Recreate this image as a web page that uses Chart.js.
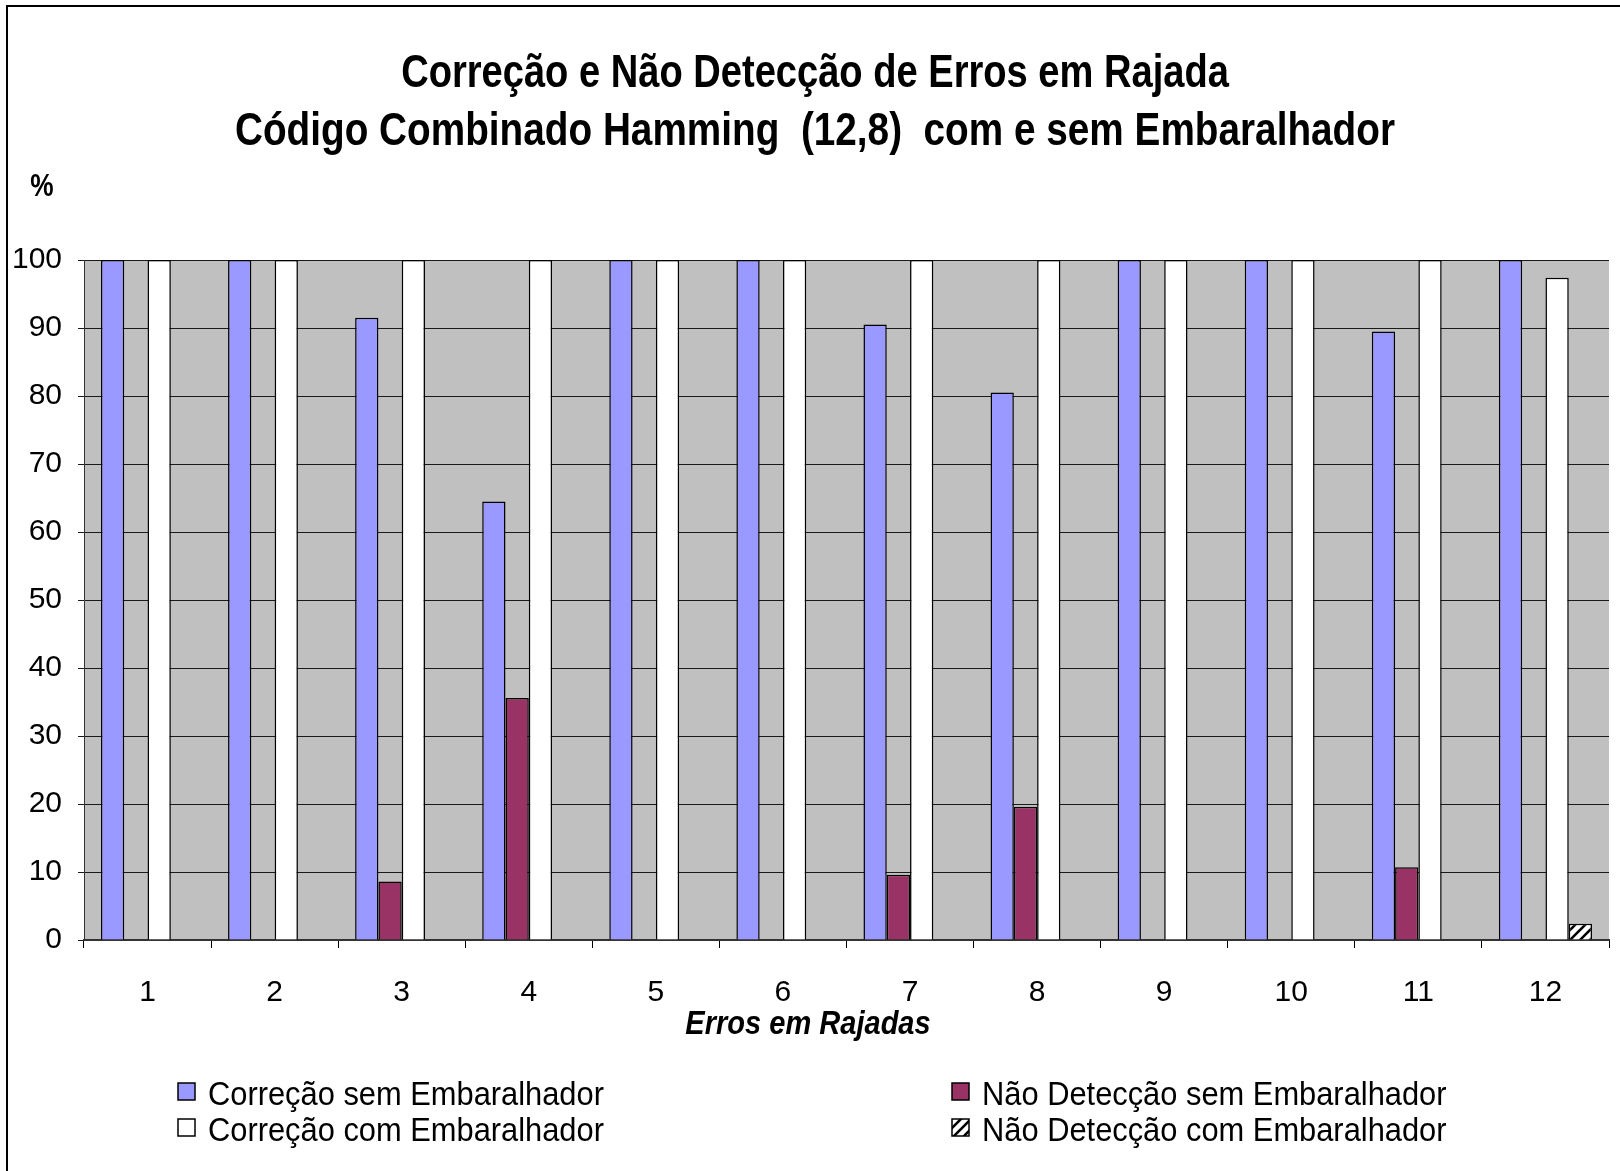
<!DOCTYPE html>
<html>
<head>
<meta charset="utf-8">
<script src="https://cdn.jsdelivr.net/npm/chart.js@4.4.1/dist/chart.umd.min.js"></script>
<style>
  html, body { margin: 0; padding: 0; background: #fff; overflow: hidden; }
  #wrap { position: relative; width: 1620px; height: 1171px; }
</style>
</head>
<body>
<div id="wrap"><canvas id="chart" width="1620" height="1171"></canvas></div>
<script>
// Burst-error lengths on the category axis
const categories = ['1', '2', '3', '4', '5', '6', '7', '8', '9', '10', '11', '12'];

// Percentages per burst length
const correcaoSem     = [100, 100, 91.5, 64.5, 100, 100, 90.5, 80.5, 100, 100, 89.5, 100];
const naoDeteccaoSem  = [0, 0, 8.6, 35.6, 0, 0, 9.6, 19.6, 0, 0, 10.7, 0];
const correcaoCom     = [100, 100, 100, 100, 100, 100, 100, 100, 100, 100, 100, 97.4];
const naoDeteccaoCom  = [0, 0, 0, 0, 0, 0, 0, 0, 0, 0, 0, 2.4];

const seriesNames = [
  'Correção sem Embaralhador',
  'Não Detecção sem Embaralhador',
  'Correção com Embaralhador',
  'Não Detecção com Embaralhador'
];

const yTickValues = [0, 10, 20, 30, 40, 50, 60, 70, 80, 90, 100];

const titleLines = [
  'Correção e Não Detecção de Erros em Rajada',
  'Código Combinado Hamming  (12,8)  com e sem Embaralhador'
];
const xAxisTitle = 'Erros em Rajadas';
const yAxisUnit = '%';

const SANS = "'Liberation Sans', Arial, sans-serif";

// Text squeezed horizontally (narrow typeface look)
function narrowText(ctx, text, x, y, font, sx, align) {
  ctx.save();
  ctx.font = font;
  ctx.textBaseline = 'alphabetic';
  ctx.textAlign = 'left';
  const w = ctx.measureText(text).width * sx;
  const left = align === 'center' ? x - w / 2 : (align === 'right' ? x - w : x);
  ctx.translate(left, y);
  ctx.scale(sx, 1);
  ctx.fillText(text, 0, 0);
  ctx.restore();
}

// Diagonal-stripe fill for the last series
function stripes() {
  const s = 10;
  const c = document.createElement('canvas');
  c.width = s; c.height = s;
  const g = c.getContext('2d');
  g.fillStyle = '#fff';
  g.fillRect(0, 0, s, s);
  g.strokeStyle = '#000';
  g.lineWidth = 2.6;
  g.beginPath();
  g.moveTo(-1, s + 1); g.lineTo(s + 1, -1);
  g.moveTo(-s / 2 - 1, s / 2 + 1); g.lineTo(s / 2 + 1, -s / 2 - 1);
  g.moveTo(s / 2 - 1, s * 1.5 + 1); g.lineTo(s * 1.5 + 1, s / 2 - 1);
  g.stroke();
  return g.createPattern(c, 'repeat');
}

const fills = ['#9999FF', '#993366', '#FFFFFF', stripes()];
const seriesData = [correcaoSem, naoDeteccaoSem, correcaoCom, naoDeteccaoCom];

// Grey plot background
const plotBackground = {
  id: 'plotBackground',
  beforeDraw(chart) {
    const { ctx, chartArea: a } = chart;
    ctx.save();
    ctx.fillStyle = '#C0C0C0';
    ctx.fillRect(a.left, a.top, a.right - a.left, a.bottom - a.top);
    ctx.restore();
  }
};

// Frame, titles, unit label, axis caption and two-column legend
const decorations = {
  id: 'decorations',
  afterDraw(chart) {
    const { ctx } = chart;
    const cx = chart.width / 2;
    ctx.save();

    ctx.strokeStyle = '#000';
    ctx.lineWidth = 2;
    ctx.strokeRect(7, 6, 1700, 1300);

    ctx.fillStyle = '#000';
    narrowText(ctx, titleLines[0], cx + 5, 87, 'bold 46px ' + SANS, 0.828, 'center');
    narrowText(ctx, titleLines[1], cx + 5, 145, 'bold 46px ' + SANS, 0.842, 'center');

    narrowText(ctx, yAxisUnit, 42, 196, 'bold 32px ' + SANS, 0.82, 'center');

    narrowText(ctx, xAxisTitle, 808, 1034, 'italic bold 33px ' + SANS, 0.88, 'center');

    const colX = [178, 952];
    const baseY = [1105, 1141];
    const box = 17;
    chart.data.datasets.forEach((ds, i) => {
      const x = colX[i % 2];
      const yb = baseY[Math.floor(i / 2)];
      const top = yb - 22;
      ctx.fillStyle = ds.backgroundColor;
      ctx.fillRect(x, top, box, box);
      ctx.strokeStyle = '#000';
      ctx.lineWidth = 1.5;
      ctx.strokeRect(x, top, box, box);
      ctx.fillStyle = '#000';
      narrowText(ctx, ds.label, x + 30, yb, '34px ' + SANS, 0.907, 'left');
    });

    ctx.restore();
  }
};

new Chart(document.getElementById('chart').getContext('2d'), {
  type: 'bar',
  data: {
    labels: categories,
    datasets: seriesNames.map((name, i) => ({
      label: name,
      data: seriesData[i],
      backgroundColor: fills[i],
      borderColor: '#000',
      borderWidth: 1.5
    }))
  },
  options: {
    responsive: false,
    animation: false,
    layout: { padding: { left: 0, right: 11, top: 260, bottom: 161 } },
    datasets: { bar: { categoryPercentage: 0.733, barPercentage: 1 } },
    plugins: {
      legend: { display: false },
      tooltip: { enabled: false },
      title: { display: false }
    },
    scales: {
      x: {
        grid: { display: true, drawOnChartArea: false, drawTicks: true, tickLength: 8, color: '#000', offset: true },
        border: { display: true, color: '#333', width: 2 },
        ticks: { color: '#000', font: { family: SANS, size: 30 }, padding: 27 },
        afterFit(scale) { scale.height = 70; }
      },
      y: {
        min: 0,
        max: 100,
        afterBuildTicks(scale) { scale.ticks = yTickValues.map(v => ({ value: v })); },
        ticks: { color: '#000', font: { family: SANS, size: 30 }, padding: 16 },
        grid: { color: '#1a1a1a', lineWidth: 1, tickLength: 6 },
        border: { display: true, color: '#333', width: 1 },
        afterFit(scale) { scale.width = 84; }
      }
    }
  },
  plugins: [plotBackground, decorations]
});
</script>
</body>
</html>
